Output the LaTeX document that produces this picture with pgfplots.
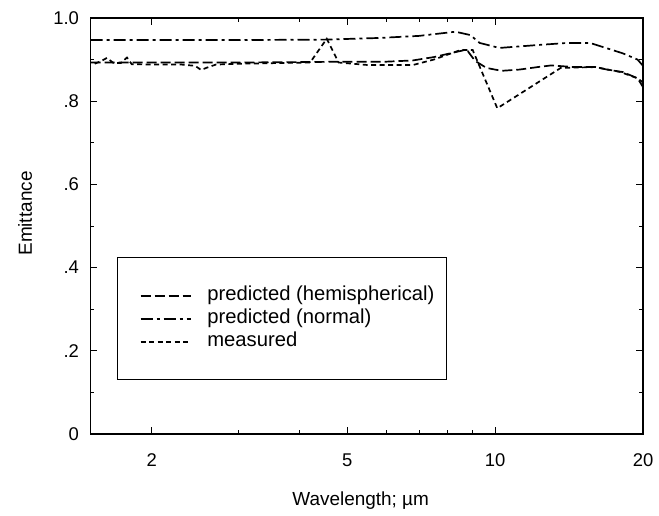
\documentclass[border=0pt]{standalone}
\usepackage{pgfplots}
\pgfplotsset{compat=1.18}
\usepackage{fontspec}
\setmainfont{Liberation Sans}
\begin{document}
\begin{tikzpicture}
\begin{axis}[
  scale only axis,
  width=552.5bp, height=416bp,
  xmode=log,
  xmin=1.5, xmax=20,
  ymin=0, ymax=1,
  xtick={2,5,10,20},
  xticklabels={2,5,10,20},
  minor xtick={3,4,6,7,8,9},
  ytick={0,0.2,0.4,0.6,0.8,1.0},
  yticklabels={0,.2,.4,.6,.8,1.0},
  minor ytick={0.1,0.3,0.5,0.7,0.9},
  tick align=inside,
  major tick length=7bp,
  minor tick length=4bp,
  tick style={black, line width=0.8bp},
  axis line style={line width=1.2bp},
  ticklabel style={font=\fontsize{18.5}{22}\selectfont},
  xticklabel style={yshift=-16bp},
  yticklabel style={xshift=-8bp},
  xlabel={Wavelength; µm},
  ylabel={Emittance},
  label style={font=\fontsize{19}{23}\selectfont},
  x label style={at={(axis description cs:0.489,0)}, anchor=center, yshift=-67bp},
  y label style={at={(axis description cs:-0.1185,0.53)}, anchor=center},
  legend style={at={(axis description cs:0.048,0.4255)}, anchor=north west,
    draw=black, line width=1bp, inner xsep=12bp, inner ysep=29bp,
    font=\fontsize{20.3}{24}\selectfont,
    nodes={inner sep=0bp, text height=14bp, text depth=4.5bp},
    row sep=4.5bp, column sep=16bp},
  legend cell align=left,
  legend image code/.code={\path[draw=none,fill=none] (0bp,0bp) -- (61bp,0bp);\draw[#1] (11bp,0bp) -- (61bp,0bp);},
]
\addplot[black, line width=1.7bp, dash pattern=on 10bp off 4bp] coordinates {
(1.5,0.893)(2,0.893)(3,0.893)(4,0.894)(5,0.895)(6,0.895)(6.8,0.898)(7.5,0.906)
(8.3,0.918)(8.6,0.922)(8.8,0.92)(9.1,0.897)(9.6,0.88)(10.3,0.873)(11.2,0.876)
(12.2,0.882)(13,0.886)(14.5,0.882)(16,0.882)(16.9,0.876)(18.2,0.87)(19.5,0.855)(20,0.834)
};
\addlegendentry{predicted (hemispherical)}
\addplot[black, line width=1.7bp, dash pattern=on 12bp off 4bp on 3bp off 4bp] coordinates {
(1.5,0.947)(2,0.947)(3,0.947)(4.5,0.948)(5.8,0.952)(7,0.957)(8.3,0.967)(8.9,0.959)
(9.3,0.94)(10.2,0.928)(12.2,0.935)(14,0.94)(15.6,0.94)(16.6,0.93)(18.2,0.915)(19.5,0.90)(20,0.885)
};
\addlegendentry{predicted (normal)}
\addplot[black, line width=1.7bp, dash pattern=on 5bp off 3.5bp] coordinates {
(1.53,0.89)(1.58,0.897)(1.62,0.904)(1.67,0.892)(1.73,0.892)(1.78,0.905)(1.82,0.889)
(2.0,0.888)(2.3,0.888)(2.45,0.885)(2.52,0.875)(2.58,0.88)(2.7,0.888)(3,0.89)(4.2,0.893)
(4.54,0.95)(4.8,0.893)(5.5,0.887)(6.8,0.887)(7.5,0.9)(8.5,0.923)(9.0,0.923)(10.1,0.783)
(13.6,0.88)(16,0.882)(18,0.87)(19.5,0.855)(20,0.845)
};
\addlegendentry{measured}
\end{axis}
\path ([shift={(-90.5bp,-82bp)}]current axis.south west) rectangle ([shift={(16bp,18bp)}]current axis.north east);
\end{tikzpicture}
\end{document}
